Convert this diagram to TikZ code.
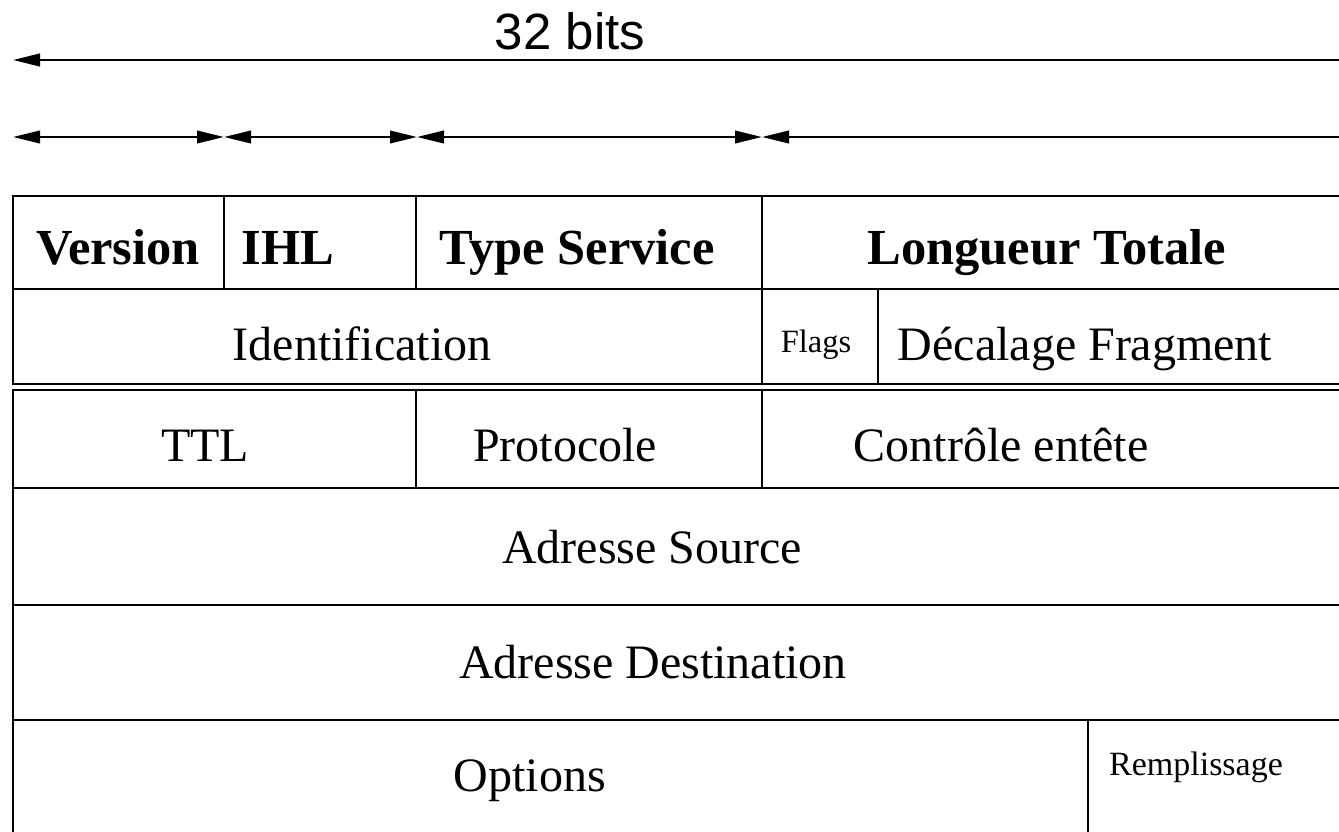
\documentclass[tikz,border=0pt]{standalone}
\usepackage{fontspec}
\setmainfont{Liberation Serif}
\setsansfont{Liberation Sans}
\usetikzlibrary{arrows.meta}

\tikzset{
  grid/.style={line width=2.7pt, line cap=rect},
  span/.style={line width=2.2pt, {Triangle[length=27pt,width=12.5pt]}-{Triangle[length=27pt,width=12.5pt]}},
  lbl/.style={anchor=base, inner sep=0pt, font=\fontsize{48}{56}\selectfont},
  head/.style={anchor=base, inner sep=0pt, font=\fontsize{50.5}{58}\selectfont\bfseries},
  small/.style={anchor=base, inner sep=0pt},
  bits/.style={anchor=base, inner sep=0pt, font=\fontsize{51}{58}\selectfont\sffamily}
}

\begin{document}
\begin{tikzpicture}[x=1pt, y=-1pt]
  \useasboundingbox (0,0) rectangle (1339,831);

  % overall width
  \coordinate (t0) at (13,60);
  \coordinate (t1) at (1366,60);
  \draw[span, line width=2.8pt] (t0) -- (t1);
  \node[bits] (title) at (570,49) {32 bits};

  % field widths of the first word
  \coordinate (b0) at (13,137);
  \coordinate (b1) at (224,137);
  \coordinate (b2) at (417,137);
  \coordinate (b3) at (762,137);
  \coordinate (b4) at (1366,137);
  \draw[span] (b0) -- (b1);
  \draw[span] (b1) -- (b2);
  \draw[span] (b2) -- (b3);
  \draw[span] (b3) -- (b4);

  % header rows
  \draw[grid] (13,196) rectangle (1362,384);
  \draw[grid] (13,289) -- (1362,289);
  \draw[grid] (224,196) -- (224,289);
  \draw[grid] (416,196) -- (416,289);
  \draw[grid] (762,196) -- (762,384);
  \draw[grid] (878,289) -- (878,384);

  \draw[grid] (13,390) rectangle (1362,860);
  \draw[grid] (13,488) -- (1362,488);
  \draw[grid] (13,605) -- (1362,605);
  \draw[grid] (13,720) -- (1362,720);
  \draw[grid] (416,390) -- (416,488);
  \draw[grid] (762,390) -- (762,488);
  \draw[grid] (1088,720) -- (1088,860);

  % field names
  \node[head] (version) at (118,264) {Version};
  \node[head] (ihl) at (288,264) {IHL};
  \node[head] (tos) at (577,264) {Type Service};
  \node[head] (len) at (1047,264) {Longueur Totale};

  \node[lbl] (ident) at (362,360) {Identification};
  \node[small, font=\fontsize{32.5}{38}\selectfont] (flags) at (816,352) {Flags};
  \node[lbl] (frag) at (1085,360) {Décalage Fragment};

  \node[lbl] (ttl) at (205,461) {TTL};
  \node[lbl] (proto) at (565,461) {Protocole};
  \node[lbl] (csum) at (1001,461) {Contrôle entête};

  \node[lbl] (src) at (652,563) {Adresse Source};
  \node[lbl] (dst) at (653,678) {Adresse Destination};

  \node[lbl] (opt) at (530,791) {Options};
  \node[small, font=\fontsize{34}{40}\selectfont] (pad) at (1196,775) {Remplissage};
\end{tikzpicture}
\end{document}
